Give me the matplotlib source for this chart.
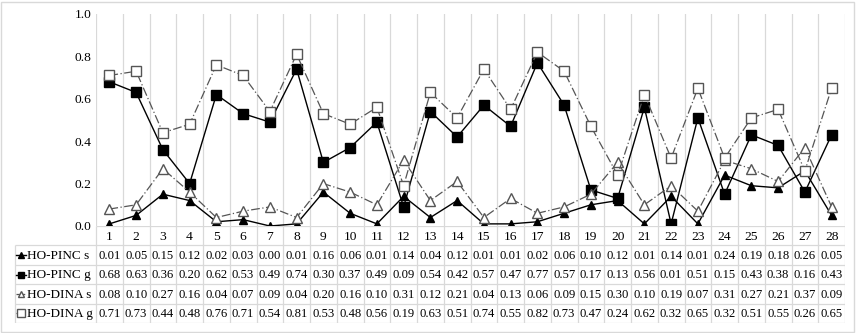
import matplotlib
matplotlib.use('Agg')
import matplotlib.pyplot as plt
from matplotlib.patches import Rectangle
import numpy as np

plt.rcParams['font.family'] = ['Liberation Serif', 'DejaVu Serif']

items = list(range(1, 29))
pinc_s = [0.01, 0.05, 0.15, 0.12, 0.02, 0.03, 0.00, 0.01, 0.16, 0.06, 0.01, 0.14, 0.04, 0.12,
          0.01, 0.01, 0.02, 0.06, 0.10, 0.12, 0.01, 0.14, 0.01, 0.24, 0.19, 0.18, 0.26, 0.05]
pinc_g = [0.68, 0.63, 0.36, 0.20, 0.62, 0.53, 0.49, 0.74, 0.30, 0.37, 0.49, 0.09, 0.54, 0.42,
          0.57, 0.47, 0.77, 0.57, 0.17, 0.13, 0.56, 0.01, 0.51, 0.15, 0.43, 0.38, 0.16, 0.43]
dina_s = [0.08, 0.10, 0.27, 0.16, 0.04, 0.07, 0.09, 0.04, 0.20, 0.16, 0.10, 0.31, 0.12, 0.21,
          0.04, 0.13, 0.06, 0.09, 0.15, 0.30, 0.10, 0.19, 0.07, 0.31, 0.27, 0.21, 0.37, 0.09]
dina_g = [0.71, 0.73, 0.44, 0.48, 0.76, 0.71, 0.54, 0.81, 0.53, 0.48, 0.56, 0.19, 0.63, 0.51,
          0.74, 0.55, 0.82, 0.73, 0.47, 0.24, 0.62, 0.32, 0.65, 0.32, 0.51, 0.55, 0.26, 0.65]
names = ['HO-PINC s', 'HO-PINC g', 'HO-DINA s', 'HO-DINA g']
series = [pinc_s, pinc_g, dina_s, dina_g]

# line / marker styles per series
styles = [
    dict(color='black', linestyle='-', marker='^', mfc='black', mec='black', ms=6, lw=1.0),
    dict(color='black', linestyle='-', marker='s', mfc='black', mec='black', ms=7, lw=1.0),
    dict(color='#555555', linestyle=(0, (7, 2, 1, 2)), marker='^', mfc='white', mec='#555555', ms=6.5, lw=0.9),
    dict(color='#555555', linestyle=(0, (7, 2, 1, 2)), marker='s', mfc='white', mec='#555555', ms=7.5, lw=0.9),
]

W, H = 856, 333
fig = plt.figure(figsize=(W / 100, H / 100), dpi=100)
fig.patches.append(Rectangle((1 / W, 1 / H), 1 - 3 / W, 1 - 3 / H, transform=fig.transFigure,
                             fill=False, edgecolor='#d9d9d9', lw=1))

gc = '#d9d9d9'
fs = 9.1
x0, x1 = 96, 845
top, bot = 14, 226
ax = fig.add_axes([x0 / W, (H - bot) / H, (x1 - x0) / W, (bot - top) / H])
x = np.array(items)
for s, st in zip(series, styles):
    ax.plot(x, s, **st, zorder=3)
ax.set_xlim(0.5, 28.5)
ax.set_ylim(0, 1.0)
ax.set_yticks(np.arange(0, 1.01, 0.2))
ax.set_yticklabels(['%.1f' % v for v in np.arange(0, 1.01, 0.2)], fontsize=fs + 0.6)
ax.set_xticks([])
ax.tick_params(axis='y', length=0, pad=3)
for sp in ax.spines.values():
    sp.set_visible(False)
for b in np.arange(0.5, 29, 1):
    ax.axvline(b, color=gc, lw=0.9, zorder=1)

# data table below the plot
tl, tb = 14, 323
unit = (x1 - x0) / 28.0
left = 0.5 - (x0 - tl) / unit
axt = fig.add_axes([tl / W, (H - tb) / H, (x1 - tl) / W, (tb - bot) / H])
axt.set_xlim(left, 28.5)
axt.set_ylim(5, 0)
axt.axis('off')
bounds = np.arange(0.5, 29, 1)
axt.vlines(bounds, 0, 5, color=gc, lw=0.9)
axt.vlines([left + 0.02], 1, 5, color=gc, lw=0.9)
axt.hlines([0], 0.5, 28.5, color=gc, lw=0.9)
axt.hlines([1, 2, 3, 4, 4.98], left + 0.02, 28.5, color=gc, lw=0.9)
for i in items:
    axt.text(i, 0.55, str(i), ha='center', va='center', fontsize=fs + 0.6)
for r, (nm, s, st) in enumerate(zip(names, series, styles)):
    yy = r + 1.5
    kx = left + 0.26
    st2 = dict(st)
    st2['ms'] = st['ms'] * 0.7
    axt.plot([kx - 0.18, kx, kx + 0.18], [yy, yy, yy], markevery=[1], **st2, clip_on=False)
    axt.text(left + 0.5, yy + 0.05, nm, ha='left', va='center', fontsize=fs + 0.4)
    for i, v in zip(items, s):
        axt.text(i, yy + 0.05, '%.2f' % v, ha='center', va='center', fontsize=fs)

fig.savefig('out.png', dpi=100)
